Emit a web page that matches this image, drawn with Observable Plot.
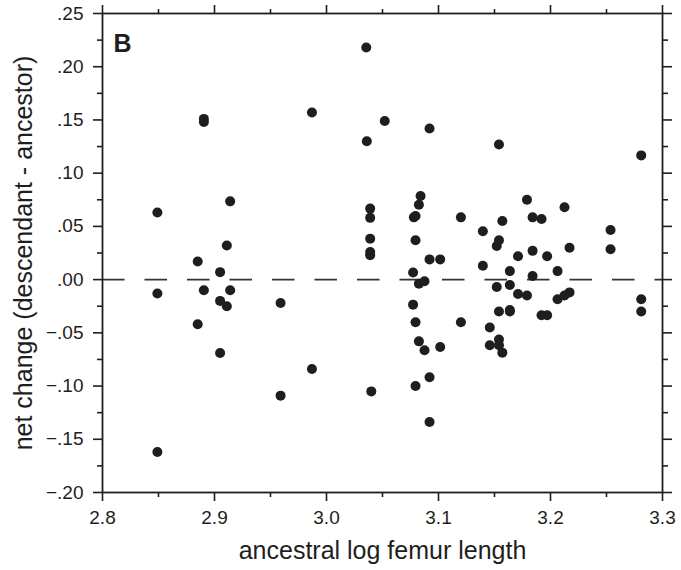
<!DOCTYPE html>
<html>
<head>
<meta charset="utf-8">
<script src="https://cdn.jsdelivr.net/npm/d3@7"></script>
<script src="https://cdn.jsdelivr.net/npm/@observablehq/plot@0.6"></script>
<style>
  html, body { margin: 0; padding: 0; background: #fff; }
  #chart svg { display: block; }
  g[aria-label="x-axis label"] text, g[aria-label="y-axis label"] text { font-size: 25px; }
</style>
</head>
<body>
<div id="chart"></div>
<script>
// ancestral log femur length (x) and net change (descendant - ancestor) (y)
const xValues = [
  2.849, 2.849, 2.849,
  2.885, 2.885,
  2.8905, 2.8905, 2.8905,
  2.905, 2.905, 2.905,
  2.911, 2.911,
  2.914, 2.914,
  2.959, 2.959,
  2.987, 2.987,
  3.0355, 3.036,
  3.039, 3.039, 3.039, 3.039, 3.039,
  3.040,
  3.052,
  3.0773, 3.0773,
  3.078,
  3.0795, 3.0795, 3.0795, 3.0795,
  3.0825, 3.0825, 3.0825,
  3.084,
  3.0875, 3.0875,
  3.092, 3.092, 3.092, 3.092,
  3.1015, 3.1015,
  3.120, 3.120,
  3.1396, 3.1396,
  3.1458, 3.1458,
  3.152, 3.152,
  3.154, 3.154, 3.154, 3.154, 3.154,
  3.157, 3.157,
  3.1637, 3.1637, 3.1637, 3.1637,
  3.171, 3.171,
  3.179, 3.179,
  3.184, 3.184, 3.184,
  3.192, 3.192,
  3.197, 3.197,
  3.2063, 3.2063,
  3.2125, 3.2125,
  3.217, 3.217,
  3.2536, 3.2536,
  3.281, 3.281, 3.281
];
const yValues = [
  0.063, -0.013, -0.162,
  0.017, -0.042,
  0.151, 0.148, -0.010,
  0.007, -0.020, -0.069,
  0.032, -0.025,
  0.0735, -0.010,
  -0.022, -0.109,
  0.157, -0.084,
  0.218, 0.130,
  0.0667, 0.058, 0.0385, 0.026, 0.023,
  -0.105,
  0.149,
  0.0066, -0.0235,
  0.0585,
  0.0597, 0.037, -0.040, -0.100,
  0.0704, -0.0038, -0.058,
  0.0785,
  -0.0016, -0.0664,
  0.142, 0.019, -0.0917, -0.1337,
  0.019, -0.0633,
  0.0585, -0.040,
  0.0454, 0.013,
  -0.045, -0.0617,
  0.0316, -0.007,
  0.127, 0.037, -0.030, -0.0563, -0.0617,
  0.055, -0.0686,
  0.008, -0.005, -0.0285, -0.030,
  0.022, -0.0135,
  0.075, -0.015,
  0.0585, 0.027, 0.0034,
  0.057, -0.0335,
  0.022, -0.0335,
  0.008, -0.0185,
  0.068, -0.015,
  0.030, -0.012,
  0.0466, 0.0285,
  0.1167, -0.0185, -0.030
];

const xTicks = [2.8, 2.9, 3.0, 3.1, 3.2, 3.3];
const xTickLabels = ["2.8", "2.9", "3.0", "3.1", "3.2", "3.3"];
const xMinorTicks = [2.85, 2.95, 3.05, 3.15, 3.25];
const yTicks = [-0.20, -0.15, -0.10, -0.05, 0.00, 0.05, 0.10, 0.15, 0.20, 0.25];
const yTickLabels = ["\u2212.20", "\u2212.15", "\u2212.10", "\u2212.05", ".00", ".05", ".10", ".15", ".20", ".25"];
const yMinorTicks = [-0.175, -0.125, -0.075, -0.025, 0.025, 0.075, 0.125, 0.175, 0.225];
const referenceLine = [0];
const panelLabel = ["B"];
const xLabel = "ancestral log femur length";
const yLabel = "net change (descendant - ancestor)";

const points = xValues.map((x, i) => ({x, y: yValues[i]}));

const ink = "#1e1e1e";
const fmtX = d => xTickLabels[xTicks.findIndex(t => Math.abs(t - d) < 1e-9)];
const fmtY = d => yTickLabels[yTicks.findIndex(t => Math.abs(t - d) < 1e-9)];
const ticksOnly = {fill: "none", label: null, strokeWidth: 1.6, stroke: ink};

const chart = Plot.plot({
  width: 681,
  height: 570,
  marginLeft: 102,
  marginRight: 19,
  marginTop: 13,
  marginBottom: 78,
  style: {fontFamily: "'Liberation Sans', Arial, Helvetica, sans-serif", fontSize: "19px", color: ink, background: "#fff"},
  x: {domain: [2.8, 3.3]},
  y: {domain: [-0.20, 0.25]},
  marks: [
    Plot.ruleY(referenceLine, {stroke: "#333", strokeWidth: 1.6, strokeDasharray: "22.5,20"}),
    Plot.dot(points, {x: "x", y: "y", r: 5, fill: ink, stroke: "none"}),
    // bottom axis
    Plot.axisX(xTicks, {anchor: "bottom", tickSize: 9, strokeWidth: 1.6, stroke: ink, fill: ink, tickPadding: 9, tickFormat: fmtX,
      label: xLabel, labelAnchor: "center", labelArrow: "none", labelOffset: 66, fontSize: 19}),
    Plot.axisX(xMinorTicks, {anchor: "bottom", tickSize: 5, ...ticksOnly}),
    // top axis
    Plot.axisX(xTicks, {anchor: "top", tickSize: 9, ...ticksOnly}),
    Plot.axisX(xMinorTicks, {anchor: "top", tickSize: 5, ...ticksOnly}),
    // left axis
    Plot.axisY(yTicks, {anchor: "left", tickSize: 9, strokeWidth: 1.6, stroke: ink, fill: ink, tickPadding: 10, tickFormat: fmtY,
      label: yLabel, labelAnchor: "center", labelArrow: "none", labelOffset: 88, fontSize: 19}),
    Plot.axisY(yMinorTicks, {anchor: "left", tickSize: 5, ...ticksOnly}),
    // right axis
    Plot.axisY(yTicks, {anchor: "right", tickSize: 9, ...ticksOnly}),
    Plot.axisY(yMinorTicks, {anchor: "right", tickSize: 5, ...ticksOnly}),
    Plot.frame({stroke: ink, strokeWidth: 1.8}),
    Plot.text(panelLabel, {frameAnchor: "top-left", dx: 11, dy: 21, text: d => d, textAnchor: "start", lineAnchor: "top",
      fontSize: 25, fontWeight: "bold", fill: ink})
  ]
});

document.getElementById("chart").appendChild(chart);
</script>
</body>
</html>
